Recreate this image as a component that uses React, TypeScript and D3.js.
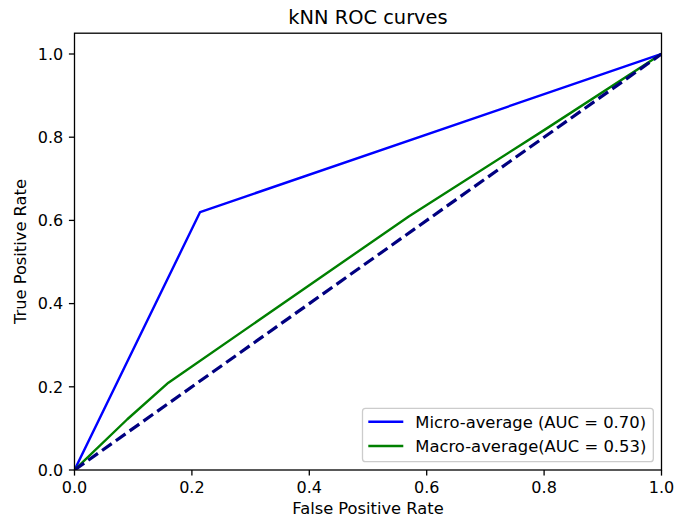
import React from "react";
import * as d3 from "d3";

const microFPR = [0, 0.214, 1];
const microTPR = [0, 0.62, 1];
const macroFPR = [0, 0.09, 0.16, 0.57, 0.8, 1];
const macroTPR = [0, 0.122, 0.21, 0.61, 0.817, 1];
const diagFPR = [0, 1];
const diagTPR = [0, 1];
const xTicks = [0, 0.2, 0.4, 0.6, 0.8, 1.0];
const yTicks = [0, 0.2, 0.4, 0.6, 0.8, 1.0];
const legendLabels = ["Micro-average (AUC = 0.70)", "Macro-average(AUC = 0.53)"];
const title = "kNN ROC curves";
const xLabel = "False Positive Rate";
const yLabel = "True Positive Rate";

const W = 686;
const H = 523;
const L = 74.5, R = 661.5, T = 33.2, B = 470;
const FONT = "DejaVu Sans";

export default function App() {
  const x = d3.scaleLinear().domain([0, 1]).range([L, R]);
  const y = d3.scaleLinear().domain([0, 1.05]).range([B, T]);
  const line = d3.line<[number, number]>().x((d) => x(d[0])).y((d) => y(d[1]));
  const zip = (a: number[], b: number[]) => a.map((v, i) => [v, b[i]] as [number, number]);
  const tickLen = 5.6;
  const fs = 16;
  const lfs = 16.4;
  const legendX = 362.5, legendY = 408.3, legendW = 290.8, legendH = 53.4;
  const legendColors = ["#0000ff", "#008000"];
  const rowY = [421.7, 446];
  return (
    <svg width={W} height={H} style={{ position: "absolute", left: 0, top: 0, background: "#fff" }} fontFamily={FONT}>
      <defs>
        <clipPath id="ax">
          <rect x={L} y={T} width={R - L} height={B - T} />
        </clipPath>
      </defs>
      <rect x={0} y={0} width={W} height={H} fill="#fff" />
      <g clipPath="url(#ax)">
        <path d={line(zip(microFPR, microTPR)) || ""} fill="none" stroke="#0000ff" strokeWidth={2.4} strokeLinejoin="round" strokeLinecap="square" />
        <path d={line(zip(macroFPR, macroTPR)) || ""} fill="none" stroke="#008000" strokeWidth={2.4} strokeLinejoin="round" strokeLinecap="square" />
        <path d={line(zip(diagFPR, diagTPR)) || ""} fill="none" stroke="#000080" strokeWidth={3.2} strokeDasharray="11.8 5.1" strokeLinecap="butt" />
      </g>
      <rect x={L} y={T} width={R - L} height={B - T} fill="none" stroke="#000" strokeWidth={1.3} />
      {xTicks.map((t) => (
        <g key={"x" + t}>
          <line x1={x(t)} x2={x(t)} y1={B} y2={B + tickLen} stroke="#000" strokeWidth={1.3} />
          <text x={x(t)} y={B + tickLen + 5.6} dy="0.76em" textAnchor="middle" fontSize={fs} fill="#000">
            {t.toFixed(1)}
          </text>
        </g>
      ))}
      {yTicks.map((t) => (
        <g key={"y" + t}>
          <line x1={L - tickLen} x2={L} y1={y(t)} y2={y(t)} stroke="#000" strokeWidth={1.3} />
          <text x={L - tickLen - 5.6} y={y(t)} dy="0.36em" textAnchor="end" fontSize={fs} fill="#000">
            {t.toFixed(1)}
          </text>
        </g>
      ))}
      <text x={(L + R) / 2} y={23.5} textAnchor="middle" fontSize={19.4} fill="#000">
        {title}
      </text>
      <text x={(L + R) / 2} y={514} textAnchor="middle" fontSize={16.3} fill="#000">
        {xLabel}
      </text>
      <text transform={`translate(26,${(T + B) / 2}) rotate(-90)`} textAnchor="middle" fontSize={16.3} fill="#000">
        {yLabel}
      </text>
      <rect x={legendX} y={legendY} width={legendW} height={legendH} rx={3} ry={3} fill="#fff" fillOpacity={0.8} stroke="#cccccc" strokeWidth={1.3} />
      {legendLabels.map((lab, i) => (
        <g key={lab}>
          <line x1={368.3} x2={403.3} y1={rowY[i]} y2={rowY[i]} stroke={legendColors[i]} strokeWidth={2.4} />
          <text x={415.3} y={rowY[i]} dy="0.36em" fontSize={lfs} fill="#000">
            {lab}
          </text>
        </g>
      ))}
    </svg>
  );
}
